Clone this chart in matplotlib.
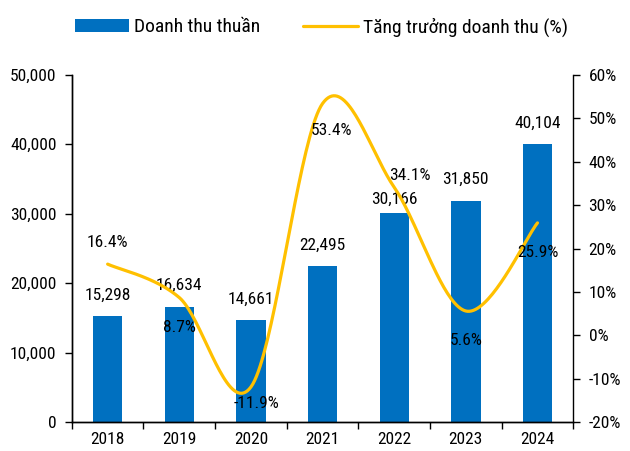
import numpy as np
import matplotlib
matplotlib.use("Agg")
from matplotlib import pyplot as plt

years = ["2018", "2019", "2020", "2021", "2022", "2023", "2024"]
revenue = [15298, 16634, 14661, 22495, 30166, 31850, 40104]
growth = [16.4, 8.7, -11.9, 53.4, 34.1, 5.6, 25.9]

# label offsets (pixels): growth labels relative to the point, revenue labels above the bar top
growth_offsets = [(0, -22), (0, 30), (6, 17), (9, 27), (16, -12), (0, 29), (0, 30)]
bar_offsets = [21, 21, 21, 21, 13, 22, 20]

plt.rcParams["font.family"] = ["Roboto Condensed", "Archivo Narrow", "DejaVu Sans"]
plt.rcParams["font.size"] = 12.5

BLUE = "#0070C0"
GOLD = "#FFC000"


def smooth(xs, ys, n=40):
    # Bezier curve through the points, like Excel's smoothed line
    xs = np.asarray(xs, float)
    ys = np.asarray(ys, float)
    px = np.concatenate([[xs[0]], xs, [xs[-1]]])
    py = np.concatenate([[ys[0]], ys, [ys[-1]]])
    outx, outy = [], []
    for i in range(1, len(px) - 2):
        p0 = np.array([px[i - 1], py[i - 1]])
        p1 = np.array([px[i], py[i]])
        p2 = np.array([px[i + 1], py[i + 1]])
        p3 = np.array([px[i + 2], py[i + 2]])
        c1 = p1 + (p2 - p0) / 6
        c2 = p2 - (p3 - p1) / 6
        t = np.linspace(0, 1, n)[:, None]
        pts = ((1 - t) ** 3) * p1 + 3 * ((1 - t) ** 2) * t * c1 + 3 * (1 - t) * t ** 2 * c2 + t ** 3 * p2
        outx.extend(pts[:, 0])
        outy.extend(pts[:, 1])
    return np.array(outx), np.array(outy)


fig = plt.figure(figsize=(6.3, 4.51), dpi=100)
ax = fig.add_axes([0.114, 0.064, 0.796, 0.770])
ax2 = ax.twinx()

x = np.arange(len(years))
ax.bar(x, revenue, width=0.41, color=BLUE, label="Doanh thu thuần", zorder=2)
for xi, v, off in zip(x, revenue, bar_offsets):
    ax.annotate(f"{v:,}", (xi, v), xytext=(0, off), textcoords="offset pixels",
                ha="center", va="center")

sx, sy = smooth(x, growth)
ax2.plot(sx, sy, color=GOLD, lw=2.3, label="Tăng trưởng doanh thu (%)", zorder=3,
         solid_capstyle="round")
for xi, g, (dx, dy) in zip(x, growth, growth_offsets):
    ax2.annotate(f"{g:.1f}%", (xi, g), xytext=(dx, -dy), textcoords="offset pixels",
                 ha="center", va="center")

ax.set_xlim(-0.5, len(years) - 0.5)
ax.set_ylim(0, 50000)
ax.set_yticks(np.arange(0, 50001, 10000))
ax.set_yticklabels([f"{v:,}" for v in range(0, 50001, 10000)])
ax2.set_ylim(-20, 60)
ax2.set_yticks(np.arange(-20, 61, 10))
ax2.set_yticklabels([f"{v}%" for v in range(-20, 61, 10)])

ax.set_xticks(np.arange(-0.5, len(years), 1))
ax.set_xticklabels([])
ax.set_xticks(x, minor=True)
ax.set_xticklabels(years, minor=True)
ax.tick_params(axis="x", which="major", direction="out", length=5, width=1)
ax.tick_params(axis="x", which="minor", length=0, pad=7)
ax.tick_params(axis="y", direction="out", length=5, width=1, pad=6)
ax2.tick_params(axis="y", direction="out", length=5, width=1, pad=6)

for a in (ax, ax2):
    a.spines["top"].set_visible(False)
    for s in ("left", "right", "bottom"):
        a.spines[s].set_color("black")
        a.spines[s].set_linewidth(1)
ax.spines["right"].set_visible(False)

h1, l1 = ax.get_legend_handles_labels()
h2, l2 = ax2.get_legend_handles_labels()
fig.legend(h1 + h2, l1 + l2, loc="center", bbox_to_anchor=(0.51, 0.94), ncol=2,
           frameon=False, fontsize=14, handlelength=2.8, handleheight=0.7,
           columnspacing=2.2, handletextpad=0.25)

fig.savefig("out.png", dpi=100)
